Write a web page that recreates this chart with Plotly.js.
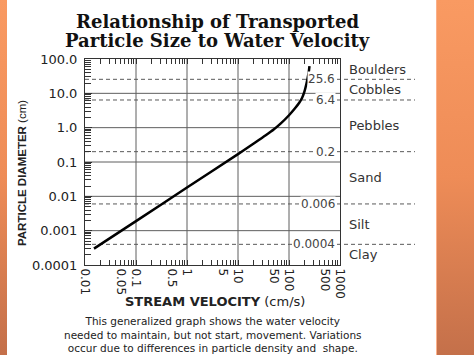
<!DOCTYPE html>
<html>
<head>
<meta charset="utf-8">
<script src="https://cdn.plot.ly/plotly-3.0.1.min.js"></script>
<style>
  html, body { margin: 0; padding: 0; background: #ffffff; }
  #wrap { position: relative; width: 474px; height: 355px; overflow: hidden; }
  #chart { position: absolute; left: 0; top: 0; width: 474px; height: 355px; }
  .stripe { position: absolute; top: 0; height: 355px; pointer-events: none; z-index: 5;
            background: linear-gradient(to bottom, #f99a62 0%, #ee8c57 50%, #c4704a 100%); }
  #left { left: 0; width: 7px; }
  #right { left: 436px; width: 38px; border-left: 1px solid #fbb08a; }
</style>
</head>
<body>
<div id="wrap">
  <div id="chart"></div>
  <div class="stripe" id="left"></div>
  <div class="stripe" id="right"></div>
</div>
<script>
// Curve: stream velocity (cm/s) vs particle diameter (cm)
const velocity = [0.015, 0.1, 1, 10, 20, 35, 50, 70, 100, 130, 160, 180, 200, 218, 232, 244, 252];
const diameter = [0.0003, 0.0019, 0.018, 0.17, 0.34, 0.6, 0.88, 1.35, 2.3, 3.6, 5.4, 7.3, 11, 18, 28, 42, 62];

// Axis ticks
const xTickVals = [0.01, 0.05, 0.1, 0.5, 1, 5, 10, 50, 100, 500, 1000];
const xTickText = ["0.01", "0.05", "0.1", "0.5", "1", "5", "10", "50", "100", "500", "1000"];
const yTickVals = [0.0001, 0.001, 0.01, 0.1, 1, 10, 100];
const yTickText = ["0.0001", "0.001", "0.01", "0.1", "1.0", "10.0", "100.0"];

// Grid lines
const xGrid = [0.1, 1, 10, 100];
const yGrid = [0.001, 0.01, 0.1, 1, 10];

// Size class boundaries and names
const boundaries = [25.6, 6.4, 0.2, 0.006, 0.0004];
const boundaryText = ["25.6", "6.4", "0.2", "0.006", "0.0004"];
const classNames = ["Boulders", "Cobbles", "Pebbles", "Sand", "Silt", "Clay"];
const classEdges = [100, 25.6, 6.4, 0.2, 0.006, 0.0004, 0.0001];

const titleLines = ["Relationship of Transported", "Particle Size to Water Velocity"];
const captionLines = [
  "This generalized graph shows the water velocity",
  "needed to maintain, but not start, movement. Variations",
  "occur due to differences in particle density and  shape."
];

const W = 474, H = 355;
const M = {l: 85, r: 134, t: 59, b: 90};
const plotW = W - M.l - M.r, plotH = H - M.t - M.b;
const pxX = px => (px - M.l) / plotW;
const pxY = py => (H - M.b - py) / plotH;

const shapes = [];
xGrid.forEach(v => shapes.push({type: 'line', layer: 'below', xref: 'x', yref: 'paper',
  x0: v, x1: v, y0: 0, y1: 1, line: {color: '#5e5e5e', width: 1}}));
yGrid.forEach(v => shapes.push({type: 'line', layer: 'below', xref: 'paper', yref: 'y',
  x0: 0, x1: 1, y0: v, y1: v, line: {color: '#5e5e5e', width: 1}}));
boundaries.forEach(v => shapes.push({type: 'line', layer: 'below', xref: 'paper', yref: 'y',
  x0: 0, x1: pxX(415), y0: v, y1: v, line: {color: '#5a5a5a', width: 1, dash: '4px,3px'}}));

const annotations = [];
const titleY = [21, 40];
titleLines.forEach((t, i) => annotations.push({xref: 'paper', yref: 'paper',
  x: pxX(217), y: pxY(titleY[i]), xanchor: 'center', yanchor: 'middle', showarrow: false,
  text: '<b>' + t + '</b>',
  font: {family: 'DejaVu Serif, serif', size: 18, color: '#111111'}}));
boundaries.forEach((v, i) => annotations.push({xref: 'paper', yref: 'y', x: 1, y: Math.log10(v),
  xanchor: 'right', yanchor: 'middle', xshift: -4, text: boundaryText[i], showarrow: false,
  bgcolor: '#ffffff', borderpad: 0,
  font: {family: 'DejaVu Sans, sans-serif', size: 12, color: '#444444'}}));
classNames.forEach((name, i) => {
  const mid = (Math.log10(classEdges[i]) + Math.log10(classEdges[i + 1])) / 2;
  annotations.push({xref: 'paper', yref: 'y', x: pxX(347), y: mid, xanchor: 'left',
    yanchor: 'middle', text: name, showarrow: false,
    font: {family: 'DejaVu Sans, sans-serif', size: 13, color: '#333333'}});
});
annotations.push({xref: 'paper', yref: 'paper', x: pxX(22), y: pxY(173), textangle: -90,
  xanchor: 'center', yanchor: 'middle', showarrow: false,
  text: '<b>PARTICLE DIAMETER</b> (cm)',
  font: {family: 'Liberation Sans, Arial, sans-serif', size: 11.5, color: '#222222'}});
annotations.push({xref: 'paper', yref: 'paper', x: pxX(215), y: pxY(301),
  xanchor: 'center', yanchor: 'middle', showarrow: false,
  text: '<b>STREAM VELOCITY</b> (cm/s)',
  font: {family: 'DejaVu Sans, sans-serif', size: 13, color: '#222222'}});
annotations.push({xref: 'paper', yref: 'paper', x: pxX(213), y: pxY(334),
  xanchor: 'center', yanchor: 'middle', showarrow: false, align: 'center',
  text: captionLines.join('<br>'),
  font: {family: 'DejaVu Sans, sans-serif', size: 10.5, color: '#222222'}});

const trace = {
  x: velocity, y: diameter, type: 'scatter', mode: 'lines',
  line: {color: '#000000', width: 2.5, shape: 'spline', smoothing: 0.8},
  hoverinfo: 'skip'
};

const layout = {
  width: W, height: H,
  margin: M,
  paper_bgcolor: '#ffffff', plot_bgcolor: '#ffffff',
  showlegend: false,
  xaxis: {
    type: 'log', range: [-2, 3], showgrid: false, zeroline: false,
    tickmode: 'array', tickvals: xTickVals, ticktext: xTickText, tickangle: 90,
    ticks: 'inside', ticklen: 5, tickcolor: '#333', tickwidth: 1,
    minor: {ticks: 'inside', ticklen: 5, dtick: 'D1', tickcolor: '#333', showgrid: false},
    showline: true, linecolor: '#333', linewidth: 1, mirror: 'ticks',
    tickfont: {family: 'DejaVu Sans, sans-serif', size: 12, color: '#222'}
  },
  yaxis: {
    type: 'log', range: [-4, 2], showgrid: false, zeroline: false,
    tickmode: 'array', tickvals: yTickVals, ticktext: yTickText,
    ticks: 'inside', ticklen: 7, tickcolor: '#333', tickwidth: 1,
    minor: {ticks: 'inside', ticklen: 6, dtick: 'D1', tickcolor: '#333', showgrid: false},
    showline: true, linecolor: '#333', linewidth: 1, mirror: true,
    ticklabelstandoff: 4,
    tickfont: {family: 'DejaVu Sans, sans-serif', size: 13, color: '#222'}
  },
  shapes: shapes,
  annotations: annotations
};

Plotly.newPlot('chart', [trace], layout, {staticPlot: true, displayModeBar: false});
</script>
</body>
</html>
